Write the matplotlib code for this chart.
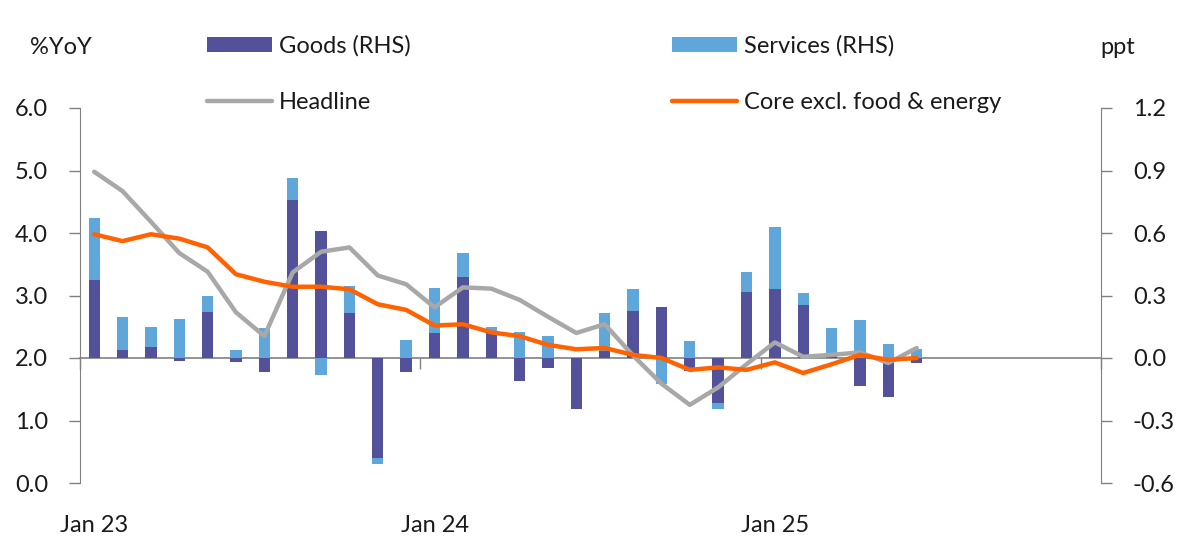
import matplotlib
matplotlib.use("Agg")
import matplotlib.pyplot as plt
import numpy as np

months = ["Jan 23","Feb 23","Mar 23","Apr 23","May 23","Jun 23","Jul 23","Aug 23","Sep 23","Oct 23","Nov 23","Dec 23",
          "Jan 24","Feb 24","Mar 24","Apr 24","May 24","Jun 24","Jul 24","Aug 24","Sep 24","Oct 24","Nov 24","Dec 24",
          "Jan 25","Feb 25","Mar 25","Apr 25","May 25","Jun 25"]

goods = [0.374, 0.040, 0.053, -0.013, 0.221, -0.019, -0.067, 0.758, 0.610, 0.218, -0.480, -0.067,
         0.120, 0.389, 0.131, -0.110, -0.048, -0.245, 0.034, 0.226, 0.245, -0.062, -0.216, 0.317,
         0.331, 0.254, 0.022, -0.133, -0.186, -0.022]
services = [0.298, 0.157, 0.096, 0.187, 0.077, 0.038, 0.143, 0.106, -0.082, 0.128, -0.029, 0.086,
            0.216, 0.115, 0.018, 0.125, 0.106, 0.005, 0.182, 0.105, -0.125, 0.082, -0.029, 0.096,
            0.298, 0.058, 0.122, 0.182, 0.067, 0.043]
headline = [4.98, 4.67, 4.18, 3.68, 3.38, 2.73, 2.35, 3.37, 3.70, 3.77, 3.32, 3.18,
            2.81, 3.13, 3.11, 2.93, 2.66, 2.40, 2.54, 2.04, 1.59, 1.25, 1.53, 1.90,
            2.25, 2.02, 2.05, 2.09, 1.92, 2.16]
core = [3.98, 3.87, 3.98, 3.91, 3.77, 3.34, 3.22, 3.14, 3.14, 3.10, 2.86, 2.77,
        2.52, 2.54, 2.41, 2.35, 2.21, 2.14, 2.16, 2.05, 2.00, 1.81, 1.85, 1.81,
        1.93, 1.76, 1.90, 2.05, 1.97, 2.00]

year_labels = ["Jan 23", "Jan 24", "Jan 25"]

plt.rcParams['font.family'] = ['Lato', 'DejaVu Sans']

C_GOODS = "#525199"
C_SERV = "#5fa6db"
C_HEAD = "#a8a8a8"
C_CORE = "#ff6200"
C_AXIS = "#808080"
C_TEXT = "#1a1a1a"
FS = 17

fig = plt.figure(figsize=(11.91, 5.54), dpi=100)
ax = fig.add_axes([80/1191, 1-483/554, (1101-80)/1191, (483-108)/554])
ax2 = ax.twinx()

x = np.arange(len(months))
g = np.array(goods)
s = np.array(services)
# stacking: positive parts stack upward, negative parts downward
g_base = np.zeros_like(g)
s_base = np.where(np.sign(s) == np.sign(g), g, 0.0)
w = 0.4
ax2.bar(x, g, width=w, bottom=g_base, color=C_GOODS, label="Goods (RHS)", zorder=2)
ax2.bar(x, s, width=w, bottom=s_base, color=C_SERV, label="Services (RHS)", zorder=2)

ax.plot(x, headline, color=C_HEAD, lw=3.2, label="Headline", solid_capstyle='round', zorder=3)
ax.plot(x, core, color=C_CORE, lw=3.2, label="Core excl. food & energy", solid_capstyle='round', zorder=4)

ax.set_zorder(ax2.get_zorder() + 1)
ax.patch.set_visible(False)

ax.set_xlim(-0.5, 35.5)
ax.set_ylim(0, 6)
ax2.set_ylim(-0.6, 1.2)

ax.set_yticks(np.arange(0, 6.01, 1.0))
ax.set_yticklabels([f"{v:.1f}" for v in np.arange(0, 6.01, 1.0)])
ax2.set_yticks(np.arange(-0.6, 1.21, 0.3))
ax2.set_yticklabels([f"{v:.1f}" if abs(v) > 1e-9 else "0.0" for v in np.arange(-0.6, 1.21, 0.3)])

for a in (ax, ax2):
    for sp in ("top", "bottom"):
        a.spines[sp].set_visible(False)
ax.spines["right"].set_visible(False)
ax2.spines["left"].set_visible(False)
ax.spines["left"].set_color(C_AXIS)
ax2.spines["right"].set_color(C_AXIS)
ax.tick_params(axis="y", direction="out", length=8, width=1, color=C_AXIS, pad=15,
               labelsize=FS, labelcolor=C_TEXT)
ax2.tick_params(axis="y", direction="out", length=8, width=1, color=C_AXIS, pad=15,
                labelsize=FS, labelcolor=C_TEXT)

# x labels at the bottom (Jan of each year), no tick marks
ax.set_xticks([0, 12, 24])
ax.set_xticklabels(year_labels)
ax.tick_params(axis="x", length=0, pad=23, labelsize=FS, labelcolor=C_TEXT)

# zero line of RHS with year boundary ticks
zl = ax2.secondary_xaxis(1/3)
zl.spines["bottom"].set_color(C_AXIS)
zl.spines["bottom"].set_linewidth(1.2)
zl.set_xticks([-0.5, 11.5, 23.5, 35.5])
zl.tick_params(axis="x", direction="out", length=8, width=1, color=C_AXIS, labelbottom=False)

# axis titles
fig.text(30/1191, 1-47/554, "%YoY", fontsize=FS, color=C_TEXT, va="center", ha="left")
fig.text(1100/1191, 1-47/554, "ppt", fontsize=FS, color=C_TEXT, va="center", ha="left")

# legend (row-wise: Goods, Services / Headline, Core)
h1, l1 = ax2.get_legend_handles_labels()
h2, l2 = ax.get_legend_handles_labels()
handles = [h1[0], h2[0], h1[1], h2[1]]
labels = [l1[0], l2[0], l1[1], l2[1]]
leg = fig.legend(handles, labels, ncol=2, loc="upper left",
                 bbox_to_anchor=(207/1191, 1-35/554), frameon=False, fontsize=FS,
                 handlelength=2.75, handleheight=0.6, handletextpad=0.3,
                 columnspacing=11.05, labelspacing=1.5, borderaxespad=0, borderpad=0)
for t in leg.get_texts():
    t.set_color(C_TEXT)

fig.savefig("out.png", dpi=100)
